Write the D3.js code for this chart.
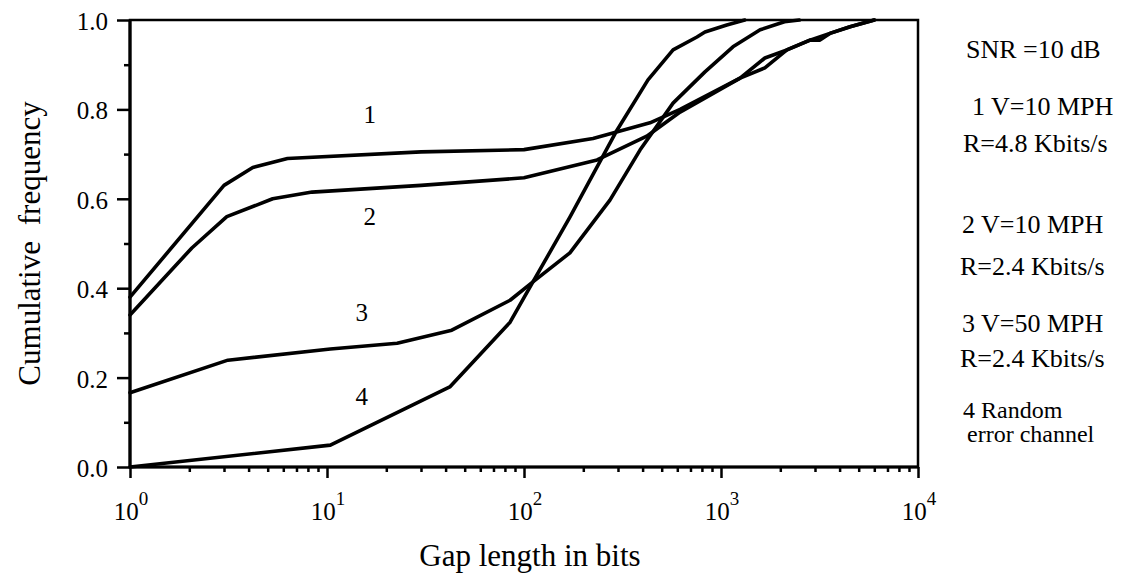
<!DOCTYPE html>
<html>
<head>
<meta charset="utf-8">
<script src="https://cdn.jsdelivr.net/npm/d3@7"></script>
<style>
  html, body { margin: 0; padding: 0; background: #fff; }
  svg { display: block; }
  text { font-family: "Liberation Serif", "Times New Roman", serif; fill: #000; }
</style>
</head>
<body>
<svg id="chart" width="1122" height="574"></svg>
<script>
// Cumulative frequency of gap lengths (bits) for four channel conditions
const gap1  = [1, 3, 4.2, 6.3, 30, 100, 224, 436, 620, 1250, 1670, 2160, 2830, 3570, 4520, 6000];
const freq1 = [0.38, 0.63, 0.67, 0.69, 0.705, 0.71, 0.735, 0.77, 0.80, 0.87, 0.915, 0.933, 0.955, 0.97, 0.985, 1.0];

const gap2  = [1, 2.06, 3.1, 5.3, 8.4, 30, 100, 235, 420, 620, 1250, 1670, 2160, 2830, 3180, 3570, 4520, 6000];
const freq2 = [0.34, 0.49, 0.56, 0.60, 0.615, 0.63, 0.647, 0.687, 0.74, 0.794, 0.87, 0.893, 0.933, 0.955, 0.955, 0.97, 0.985, 1.0];

const gap3  = [1, 3.14, 10.4, 22.7, 43, 85, 111, 171, 273, 388, 571, 829, 1150, 1580, 2100, 2500];
const freq3 = [0.166, 0.239, 0.264, 0.277, 0.306, 0.373, 0.414, 0.479, 0.597, 0.709, 0.814, 0.884, 0.94, 0.978, 0.996, 1.0];

const gap4  = [1, 10.4, 42, 85, 111, 171, 297, 426, 571, 755, 829, 1070, 1320];
const freq4 = [0, 0.049, 0.179, 0.324, 0.414, 0.559, 0.754, 0.866, 0.933, 0.962, 0.973, 0.989, 1.0];

const curveIds     = ["1", "2", "3", "4"];
const curveLabelAt = [[16.5, 0.77], [16.5, 0.541], [15, 0.327], [15, 0.139]];

const yMajorTicks = [0, 0.2, 0.4, 0.6, 0.8, 1.0];
const yMinorTicks = [0.1, 0.3, 0.5, 0.7, 0.9];
const xMajorTicks = [1, 10, 100, 1000, 10000];
const xExponents  = ["0", "1", "2", "3", "4"];

const legendLines = [
  "SNR =10 dB",
  "1 V=10 MPH", "R=4.8 Kbits/s",
  "2 V=10 MPH", "R=2.4 Kbits/s",
  "3 V=50 MPH", "R=2.4 Kbits/s",
  "4 Random", "error channel"
];
const legendBaselines = [58, 115, 152, 233, 275, 332, 367, 418, 442];
const legendIndent    = [6, 12, 3, 2, 0, 2, 0, 3, 7];
const legendSizes     = [26, 26, 26, 26, 26, 26, 26, 24, 24];

const svg = d3.select("#chart");
const plotLeft = 130, plotRight = 918, plotTop = 20, plotBottom = 467;

const x = d3.scaleLog().domain([1, 10000]).range([plotLeft, plotRight]);
const y = d3.scaleLinear().domain([0, 1]).range([plotBottom, plotTop]);

// minor ticks along x: 2..9 within each decade
const xMinorTicks = [];
for (let d = 1; d < 10000; d *= 10) for (let k = 2; k <= 9; k++) xMinorTicks.push(k * d);

const g = svg.append("g");

// y axis: major ticks with labels, minor ticks without
const yMajor = g.append("g").attr("transform", `translate(${plotLeft},0)`)
  .call(d3.axisLeft(y).tickValues(yMajorTicks).tickSize(13).tickPadding(9).tickFormat(d3.format(".1f")));
const yMinor = g.append("g").attr("transform", `translate(${plotLeft},0)`)
  .call(d3.axisLeft(y).tickValues(yMinorTicks).tickSize(6).tickFormat(""));

// x axis
const xMajor = g.append("g").attr("transform", `translate(0,${plotBottom})`)
  .call(d3.axisBottom(x).tickValues(xMajorTicks).tickSize(11).tickFormat(""));
const xMinor = g.append("g").attr("transform", `translate(0,${plotBottom})`)
  .call(d3.axisBottom(x).tickValues(xMinorTicks).tickSize(5).tickFormat(""));

[yMajor, yMinor, xMajor, xMinor].forEach(a => {
  a.attr("font-family", null).attr("font-size", null);
  a.select(".domain").remove();
  a.selectAll(".tick line").attr("stroke", "#000").attr("stroke-width", 2.5);
});
yMajor.selectAll(".tick text")
  .attr("font-size", 25)
  .attr("dy", "0.38em")
  .attr("fill", "#000");

// decade labels 10^n
const xl = g.append("g");
xMajorTicks.forEach((v, i) => {
  const t = xl.append("text")
    .attr("x", x(v) + 1)
    .attr("y", 520)
    .attr("text-anchor", "middle")
    .attr("font-size", 25);
  t.append("tspan").text("10");
  t.append("tspan").attr("dy", -15).attr("font-size", 19).text(xExponents[i]);
});

// frame
g.append("rect")
  .attr("x", plotLeft).attr("y", plotTop)
  .attr("width", plotRight - plotLeft).attr("height", plotBottom - plotTop)
  .attr("fill", "none").attr("stroke", "#000").attr("stroke-width", 2.5);
g.append("line").attr("x1", plotLeft).attr("x2", plotLeft).attr("y1", plotTop).attr("y2", plotBottom)
  .attr("stroke", "#000").attr("stroke-width", 3.2);
g.append("line").attr("x1", plotLeft).attr("x2", plotRight).attr("y1", plotBottom).attr("y2", plotBottom)
  .attr("stroke", "#000").attr("stroke-width", 3.2);

// curves
const series = [[gap1, freq1], [gap2, freq2], [gap3, freq3], [gap4, freq4]];
const line = d3.line().x(d => x(d[0])).y(d => y(d[1]));
series.forEach(([gx, fy]) => {
  const pts = gx.map((v, i) => [v, fy[i]]);
  g.append("path").datum(pts)
    .attr("d", line)
    .attr("fill", "none")
    .attr("stroke", "#000")
    .attr("stroke-width", 3.6)
    .attr("stroke-linejoin", "round")
    .attr("stroke-linecap", "round");
});

// curve numbers
curveIds.forEach((id, i) => {
  g.append("text")
    .attr("x", x(curveLabelAt[i][0]))
    .attr("y", y(curveLabelAt[i][1]))
    .attr("text-anchor", "middle")
    .attr("font-size", 25)
    .text(id);
});

// axis titles
g.append("text")
  .attr("x", 530).attr("y", 566)
  .attr("text-anchor", "middle")
  .attr("font-size", 31)
  .text("Gap length in bits");
g.append("text")
  .attr("transform", `translate(40,${(plotTop + plotBottom) / 2}) rotate(-90)`)
  .attr("text-anchor", "middle")
  .attr("font-size", 31)
  .attr("word-spacing", 8)
  .text("Cumulative frequency");

// condition notes on the right
legendLines.forEach((s, i) => {
  g.append("text")
    .attr("x", 960 + legendIndent[i])
    .attr("y", legendBaselines[i])
    .attr("font-size", legendSizes[i])
    .text(s);
});
</script>
</body>
</html>
